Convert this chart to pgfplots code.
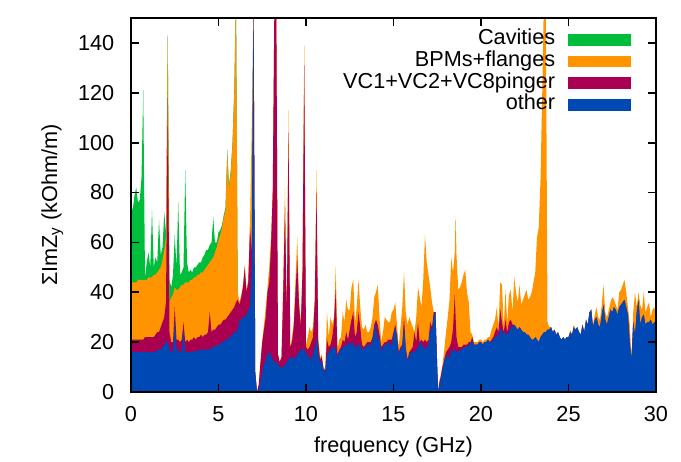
\documentclass[border=0pt]{standalone}
\usepackage{fontspec}
\setmainfont{Liberation Sans}
\usepackage{pgfplots}
\pgfplotsset{compat=1.18}
\usepackage{pgfplotstable}

\definecolor{cavgreen}{RGB}{0,190,60}
\definecolor{bpmorange}{RGB}{255,148,0}
\definecolor{vccrimson}{RGB}{170,0,82}
\definecolor{otherblue}{RGB}{0,72,180}

% cumulative tops: b = other, m = +VC, o = +BPMs
\pgfplotstableread{
f b m o
0.0 16 21 44
0.1 16 21 44
0.2 16 21 44
0.3 16 21 44
0.4 16 21 45
0.5 16 21 45
0.6 16 21 45
0.7 16 21 45
0.8 16 22 45
0.9 16 22 45
1.0 16 22 46
1.1 16 22 46
1.2 16 22 46
1.3 16 22 47
1.4 16 23 47
1.5 17 24 48
1.6 17 24 49
1.7 17 26 50
1.8 18 28 53
1.9 19 30 57
2.0 20 36 62
2.1 20 118 142
2.2 17 24 36
2.3 16 20 38
2.4 16 20 39
2.5 29 34 42
2.6 17 21 41
2.7 17 21 41
2.8 16 20 42
2.9 16 21 43
3.0 25 28 43
3.1 16 20 44
3.2 16 21 44
3.3 16 20 44
3.4 16 21 45
3.5 16 21 45
3.6 16 22 46
3.7 17 21 46
3.8 16 22 47
3.9 17 22 47
4.0 17 23 48
4.1 17 22 48
4.2 17 23 49
4.3 17 23 50
4.4 17 24 51
4.5 17 32 52
4.6 18 24 53
4.7 18 25 54
4.8 18 25 56
4.9 19 26 58
5.0 19 27 61
5.1 19 27 63
5.2 20 28 66
5.3 20 29 70
5.4 21 29 73
5.5 21 30 96
5.6 22 31 82
5.7 22 32 88
5.8 23 33 99
5.9 24 34 120
6.0 24 36 160
6.1 25 37 40
6.2 29 35 36
6.3 29 38 39
6.4 30 42 43
6.5 30 50 51
6.6 31 40 41
6.7 33 44 45
6.8 34 66 67
6.9 49 56 106
7.0 160 160 160
7.1 8 8 8
7.2 0 0 0
7.3 1 3 3
7.4 4 12 12
7.5 8 20 21
7.6 11 25 27
7.7 13 30 34
7.8 15 40 42
7.9 16 44 50
8.0 15 58 62
8.1 13 80 82
8.2 12 160 160
8.3 12 160 160
8.4 11 15 15
8.5 10 12 12
8.6 10 14 14
8.7 10 40 45
8.8 11 74 82
8.9 12 30 31
9.0 13 104 113
9.1 14 18 18
9.2 14 20 22
9.3 13 26 28
9.4 14 40 45
9.5 15 53 62
9.6 16 35 37
9.7 17 26 28
9.8 17 48 50
9.9 17 131 139
10.0 16 18 19
10.1 14 17 22
10.2 14 18 26
10.3 13 20 24
10.4 15 22 26
10.5 18 36 38
10.6 22 80 89
10.7 16 20 22
10.8 11 13 14
10.9 13 14 15
11.0 9 9 10
11.1 8 9 9
11.2 15 21 32
11.3 16 18 22
11.4 17 19 30
11.5 18 22 27
11.6 18 28 30
11.7 17 41 50
11.8 14 15 17
11.9 16 17 21
12.0 17 18 22
12.1 18 21 32
12.2 18 20 28
12.3 19 24 37
12.4 19 21 33
12.5 20 25 33
12.6 19 29 42
12.7 20 32 45
12.8 18 22 28
12.9 18 24 34
13.0 19 32 45
13.1 19 26 34
13.2 17 19 26
13.3 17 18 25
13.4 18 19 27
13.5 19 20 24
13.6 19 20 24
13.7 18 20 26
13.8 21 22 30
13.9 24 27 38
14.0 28 29 40
14.1 20 27 43
14.2 22 23 30
14.3 16 18 20
14.4 18 19 24
14.5 19 20 30
14.6 19 20 29
14.7 20 21 28
14.8 20 21 28
14.9 18 21 32
15.0 23 24 33
15.1 26 27 36
15.2 22 23 27
15.3 15 16 18
15.4 17 18 26
15.5 18 19 34
15.6 27 30 48
15.7 17 18 32
15.8 12 13 27
15.9 15 16 30
16.0 16 17 28
16.1 16 18 26
16.2 16 24 24
16.3 17 20 30
16.4 18 28 42
16.5 19 20 38
16.6 20 21 34
16.7 18 20 45
16.8 17 21 63
16.9 18 20 52
17.0 19 21 47
17.1 26 28 42
17.2 24 26 36
17.3 31 32 32
17.4 32 32 32
17.5 10 10 10
17.55 0 0 0
17.6 2 3 4
17.7 5 6 7
17.8 9 10 11
17.9 12 13 17
18.0 15 16 24
18.1 14 17 30
18.2 14 18 37
18.3 17 20 54
18.4 16 25 48
18.5 17 39 56
18.55 17 30 71
18.6 16 22 55
18.7 16 18 41
18.8 17 18 42
18.9 17 18 44
19.0 18 19 47
19.1 18 19 49
19.2 18 19 40
19.3 19 20 36
19.4 19 20 24
19.5 21 22 23
19.6 19 19 20
19.7 19 19 20
19.8 19 19 20
19.9 20 20 21
20.0 20 20 21
20.1 19 19 20
20.2 20 20 21
20.3 20 20 21
20.4 21 21 22
20.5 20 20 22
20.6 20 21 25
20.7 21 22 27
20.8 22 24 29
20.9 22 26 34
21.0 23 24 26
21.1 25 33 44
21.2 25 28 43
21.3 23 24 26
21.4 24 29 41
21.5 23 24 28
21.6 24 28 39
21.7 26 29 41
21.8 26 27 32
21.9 27 27 46
22.0 26 26 40
22.1 25 25 36
22.2 26 26 43
22.3 25 25 35
22.4 24 24 37
22.5 24 24 39
22.6 23 23 41
22.7 23 23 37
22.8 22 22 38
22.9 21 21 40
23.0 21 21 44
23.1 22 22 48
23.2 21 21 62
23.3 20 20 66
23.4 22 22 85
23.5 23 23 120
23.6 24 24 160
23.7 24 24 160
23.8 25 25 28
23.9 25 25 26
24.0 26 26 26
24.1 24 24 24
24.2 25 25 25
24.3 23 23 23
24.4 24 24 24
24.5 22 22 22
24.6 21 21 21
24.7 22 22 22
24.8 21 21 21
24.9 22 22 22
25.0 22 22 22
25.1 24 24 25
25.2 23 23 23
25.3 26 26 27
25.4 25 25 25
25.5 26 26 26
25.6 24 24 24
25.7 23 23 23
25.8 27 27 27
25.9 24 24 24
26.0 29 29 29
26.1 27 27 27
26.2 32 32 32
26.3 33 33 33
26.4 26 26 27
26.5 29 29 31
26.6 30 30 34
26.7 27 27 30
26.8 26 26 29
26.9 31 31 35
27.0 35 35 43
27.1 29 29 32
27.2 27 27 30
27.3 30 30 33
27.4 33 33 36
27.5 32 32 38
27.6 34 34 37
27.7 33 33 35
27.8 31 31 33
27.9 34 34 40
28.0 35 35 41
28.1 36 36 43
28.2 37 37 45
28.3 34 34 40
28.4 31 31 34
28.5 20 20 27
28.6 13 13 14
28.7 28 28 32
28.8 23 23 40
28.9 32 32 34
29.0 37 37 40
29.1 27 27 35
29.2 30 30 33
29.3 31 31 40
29.4 27 27 32
29.5 28 28 34
29.6 28 28 36
29.7 29 29 30
29.8 27 27 33
29.9 28 28 34
30.0 27 27 31
}\stack

% total incl. cavities, only where it differs from BPMs
\pgfplotstableread{
f g
0.0 75
0.1 73
0.2 79
0.3 82
0.4 76
0.5 77
0.6 86
0.7 121
0.8 46
0.9 52
1.0 56
1.1 50
1.2 73
1.3 50
1.4 54
1.5 52
1.6 69
1.7 55
1.8 58
1.9 72
2.0 64
2.1 143
2.2 45
2.3 42
2.4 47
2.5 63
2.6 50
2.7 76
2.8 47
2.9 48
3.0 50
3.1 89
3.2 52
3.3 48
3.4 49
3.5 48
3.6 50
3.7 50
3.8 51
3.9 52
4.0 52
4.1 54
4.2 55
4.3 57
4.4 57
4.5 59
4.6 60
4.7 70
4.8 60
4.9 60
5.0 64
5.1 65
5.2 67
5.3 71
5.4 74
5.5 97
5.6 83
5.7 89
5.8 100
5.9 121
6.0 160
6.1 40
}\cav

\begin{document}
\fontsize{13}{15.6}\selectfont
\begin{tikzpicture}
\useasboundingbox (-78.6pt,-41.4pt) rectangle (330pt,235.2pt);
\begin{axis}[
    at={(0,0)}, anchor=south west,
    scale only axis,
    width=315pt, height=224.4pt,
    xmin=0, xmax=30, ymin=0, ymax=150,
    xtick={0,5,...,30},
    ytick={0,20,...,140},
    tick align=inside,
    major tick length=5pt,
    axis on top,
    axis line style={line width=1pt},
    every tick/.style={line width=1pt, black},
    tick label style={/pgf/number format/assume math mode=true, font=\fontsize{13}{15.6}\selectfont},
    xticklabel style={yshift=-4pt},
    yticklabel style={xshift=-5.5pt},
    label style={font=\fontsize{13}{15.6}\selectfont},
    xlabel={frequency (GHz)},
    ylabel={ΣImZ\textsubscript{y} (kOhm/m)},
    legend style={at={(1,1)}, anchor=north east, xshift=-15pt, yshift=-6.5pt,
                  draw=none, fill=none, inner sep=0pt, outer sep=0pt,
                  font=\fontsize{13}{15.6}\selectfont, row sep=0pt, column sep=7pt,
                  nodes={inner sep=0.5pt, text height=9pt, text depth=3pt}},
    legend cell align=right,
    legend plot pos=right,
    legend image code/.code={\fill[#1] (0pt,-3.5pt) rectangle (38pt,3.5pt);},
]
    \addplot[fill=cavgreen, draw=none] table[x=f, y=g] {\cav} \closedcycle;
    \addplot[fill=bpmorange, draw=none] table[x=f, y=o] {\stack} \closedcycle;
    \addplot[fill=vccrimson, draw=none] table[x=f, y=m] {\stack} \closedcycle;
    \addplot[fill=otherblue, draw=none] table[x=f, y=b] {\stack} \closedcycle;
    \legend{Cavities, BPMs+flanges, VC1+VC2+VC8pinger, other}
\end{axis}
\end{tikzpicture}
\end{document}
